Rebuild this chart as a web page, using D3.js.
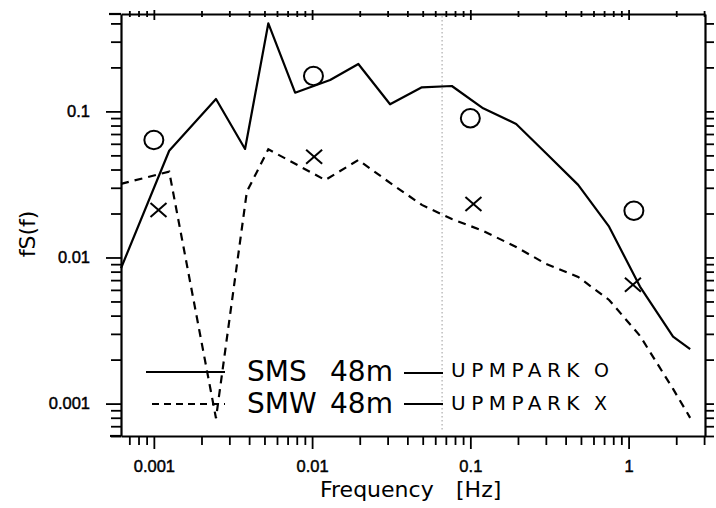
<!DOCTYPE html>
<html>
<head>
<meta charset="utf-8">
<script src="https://cdn.jsdelivr.net/npm/d3@7"></script>
<style>
  html, body { margin: 0; padding: 0; background: #fff; }
  svg { display: block; }
</style>
</head>
<body>
<svg id="chart" width="716" height="508"></svg>
<script>
// SMS 48m spectrum (solid line)
const smsFreq  = [0.00062, 0.00125, 0.00247, 0.00377, 0.00529, 0.00781, 0.0130, 0.0196, 0.0311, 0.0494, 0.0764, 0.1205, 0.1948, 0.301, 0.480, 0.753, 1.18, 1.91, 2.45];
const smsValue = [0.00844, 0.0538, 0.1216, 0.0553, 0.4006, 0.1342, 0.164, 0.211, 0.1118, 0.1462, 0.1492, 0.105, 0.082, 0.0517, 0.0314, 0.01626, 0.00632, 0.00287, 0.002357];

// SMW 48m spectrum (dashed line)
const smwFreq  = [0.00062, 0.00125, 0.00247, 0.00387, 0.00529, 0.0121, 0.0196, 0.0311, 0.0494, 0.0764, 0.1205, 0.1948, 0.301, 0.480, 0.753, 1.18, 1.91, 2.45];
const smwValue = [0.0319, 0.0387, 0.000794, 0.0282, 0.055, 0.0339, 0.0465, 0.0324, 0.0229, 0.01835, 0.0152, 0.0118, 0.00903, 0.00736, 0.00512, 0.00291, 0.00126, 0.000799];

// UPMPARK estimates: "O" pairs with SMS, "X" pairs with SMW
const upmOFreq  = [0.001, 0.0102, 0.1, 1.08];
const upmOValue = [0.0637, 0.1747, 0.0897, 0.0209];
const upmXFreq  = [0.00107, 0.0103, 0.1046, 1.065];
const upmXValue = [0.0211, 0.049, 0.0232, 0.0065];

// Axis extents and labelled ticks
const xDomain = [0.00062, 3.04];
const yDomain = [0.0006, 0.464];
const xTickValues = [0.001, 0.01, 0.1, 1];
const xTickLabels = ["0.001", "0.01", "0.1", "1"];
const yTickValues = [0.001, 0.01, 0.1];
const yTickLabels = ["0.001", "0.01", "0.1"];

// Faint vertical guide line
const refFreq = 0.0663;

const svg = d3.select("#chart");
svg.append("rect").attr("width", 716).attr("height", 508).attr("fill", "#fff");

const x = d3.scaleLog().domain(xDomain).range([121, 705]);
const y = d3.scaleLog().domain(yDomain).range([436, 14]);

const isMajor = v => Math.abs(Math.log10(v) - Math.round(Math.log10(v))) < 1e-6;
const fmtFrom = (vals, labels) => v => {
  const i = vals.findIndex(t => Math.abs(t - v) / t < 1e-6);
  return i >= 0 ? labels[i] : "";
};

const tickFont = "'Liberation Sans', Arial, sans-serif";
const labelFont = "'DejaVu Sans', sans-serif";

function styleAxis(g) {
  g.select(".domain").attr("stroke", "#000").attr("stroke-width", 2.2);
  g.selectAll(".tick line").attr("stroke", "#000").attr("stroke-width", 1.8);
  g.selectAll(".tick text")
    .attr("fill", "#000")
    .attr("stroke", "#000")
    .attr("stroke-width", 0.45)
    .style("font-family", tickFont)
    .style("font-size", "16.5px");
}

// guide line
svg.append("line")
  .attr("x1", x(refFreq)).attr("x2", x(refFreq))
  .attr("y1", 16).attr("y2", 432)
  .attr("stroke", "#b8b8b8")
  .attr("stroke-width", 1.4)
  .attr("stroke-dasharray", "1.5,2.5");

// bottom axis
const gx = svg.append("g")
  .attr("transform", "translate(0,436)")
  .call(d3.axisBottom(x).tickValues(x.ticks()).tickSizeInner(9).tickSizeOuter(0)
    .tickPadding(15).tickFormat(fmtFrom(xTickValues, xTickLabels)));
gx.selectAll(".tick line").filter(d => isMajor(d)).attr("y2", 13);
styleAxis(gx);

// top axis
const gt = svg.append("g")
  .attr("transform", "translate(0,14)")
  .call(d3.axisTop(x).tickValues(x.ticks()).tickSizeInner(3).tickSizeOuter(0).tickFormat(""));
gt.selectAll(".tick line").attr("y1", 3);
gt.selectAll(".tick line").filter(d => isMajor(d)).attr("y1", 6).attr("y2", -4);
styleAxis(gt);

// left axis
const gy = svg.append("g")
  .attr("transform", "translate(121,0)")
  .call(d3.axisLeft(y).tickValues(y.ticks()).tickSizeInner(10).tickSizeOuter(0)
    .tickPadding(21).tickFormat(fmtFrom(yTickValues, yTickLabels)));
gy.selectAll(".tick line").filter(d => isMajor(d)).attr("x2", -15);
styleAxis(gy);

// right axis
const gr = svg.append("g")
  .attr("transform", "translate(705,0)")
  .call(d3.axisRight(y).tickValues(y.ticks()).tickSizeInner(9).tickSizeOuter(0).tickFormat(""));
styleAxis(gr);

// frame corners run slightly past the left axis
svg.append("line").attr("x1", 109).attr("x2", 121).attr("y1", 14).attr("y2", 14)
  .attr("stroke", "#000").attr("stroke-width", 2.2);
svg.append("line").attr("x1", 110).attr("x2", 121).attr("y1", 436).attr("y2", 436)
  .attr("stroke", "#000").attr("stroke-width", 2.2);

// spectra
const line = d3.line().x(d => x(d[0])).y(d => y(d[1]));
const smsData = smsFreq.map((f, i) => [f, smsValue[i]]);
const smwData = smwFreq.map((f, i) => [f, smwValue[i]]);

svg.append("path").datum(smsData)
  .attr("d", line).attr("fill", "none")
  .attr("stroke", "#000").attr("stroke-width", 2.2)
  .attr("stroke-linejoin", "round");

svg.append("path").datum(smwData)
  .attr("d", line).attr("fill", "none")
  .attr("stroke", "#000").attr("stroke-width", 2.2)
  .attr("stroke-dasharray", "8,6");

// UPMPARK circles
svg.selectAll("ellipse.upm-o")
  .data(upmOFreq.map((f, i) => [f, upmOValue[i]]))
  .join("ellipse")
  .attr("class", "upm-o")
  .attr("cx", d => x(d[0])).attr("cy", d => y(d[1]))
  .attr("rx", 9.5).attr("ry", 9.2)
  .attr("fill", "none").attr("stroke", "#000").attr("stroke-width", 2);

// UPMPARK crosses
const xs = svg.selectAll("g.upm-x")
  .data(upmXFreq.map((f, i) => [f, upmXValue[i]]))
  .join("g")
  .attr("class", "upm-x")
  .attr("transform", d => `translate(${x(d[0])},${y(d[1])})`);
xs.append("line").attr("x1", -8).attr("y1", -7).attr("x2", 8).attr("y2", 7)
  .attr("stroke", "#000").attr("stroke-width", 2);
xs.append("line").attr("x1", -8).attr("y1", 7).attr("x2", 8).attr("y2", -7)
  .attr("stroke", "#000").attr("stroke-width", 2);

// legend
const legend = svg.append("g");
legend.append("line").attr("x1", 146).attr("x2", 225).attr("y1", 372).attr("y2", 372)
  .attr("stroke", "#000").attr("stroke-width", 2);
legend.append("line").attr("x1", 152).attr("x2", 225).attr("y1", 404).attr("y2", 404)
  .attr("stroke", "#000").attr("stroke-width", 2).attr("stroke-dasharray", "7,5");

const legRows = [
  { name: "SMS", depth: "48m", mark: "O", y: 381, hy: 377, dashY: 373 },
  { name: "SMW", depth: "48m", mark: "X", y: 412.5, hy: 410, dashY: 404 }
];
legRows.forEach(r => {
  legend.append("text").attr("x", 247).attr("y", r.y).text(r.name)
    .style("font-family", labelFont).style("font-size", "28px");
  legend.append("text").attr("x", 330).attr("y", r.y).text(r.depth)
    .style("font-family", labelFont).style("font-size", "28px");
  legend.append("line").attr("x1", 404).attr("x2", 443).attr("y1", r.dashY).attr("y2", r.dashY)
    .attr("stroke", "#000").attr("stroke-width", 2);
  legend.append("text").attr("x", 451).attr("y", r.hy).text("UPMPARK")
    .style("font-family", labelFont).style("font-size", "20px")
    .style("letter-spacing", "5.5px");
  legend.append("text").attr("x", 594).attr("y", r.hy).text(r.mark)
    .style("font-family", labelFont).style("font-size", "19px");
});

// axis titles
svg.append("text").attr("x", 320).attr("y", 497).text("Frequency")
  .style("font-family", labelFont).style("font-size", "22px");
svg.append("text").attr("x", 456).attr("y", 497).text("[Hz]")
  .style("font-family", labelFont).style("font-size", "22px");
svg.append("text")
  .attr("transform", "translate(35,234) rotate(-90)")
  .attr("text-anchor", "middle")
  .text("fS(f)")
  .style("font-family", labelFont).style("font-size", "22px");
</script>
</body>
</html>
